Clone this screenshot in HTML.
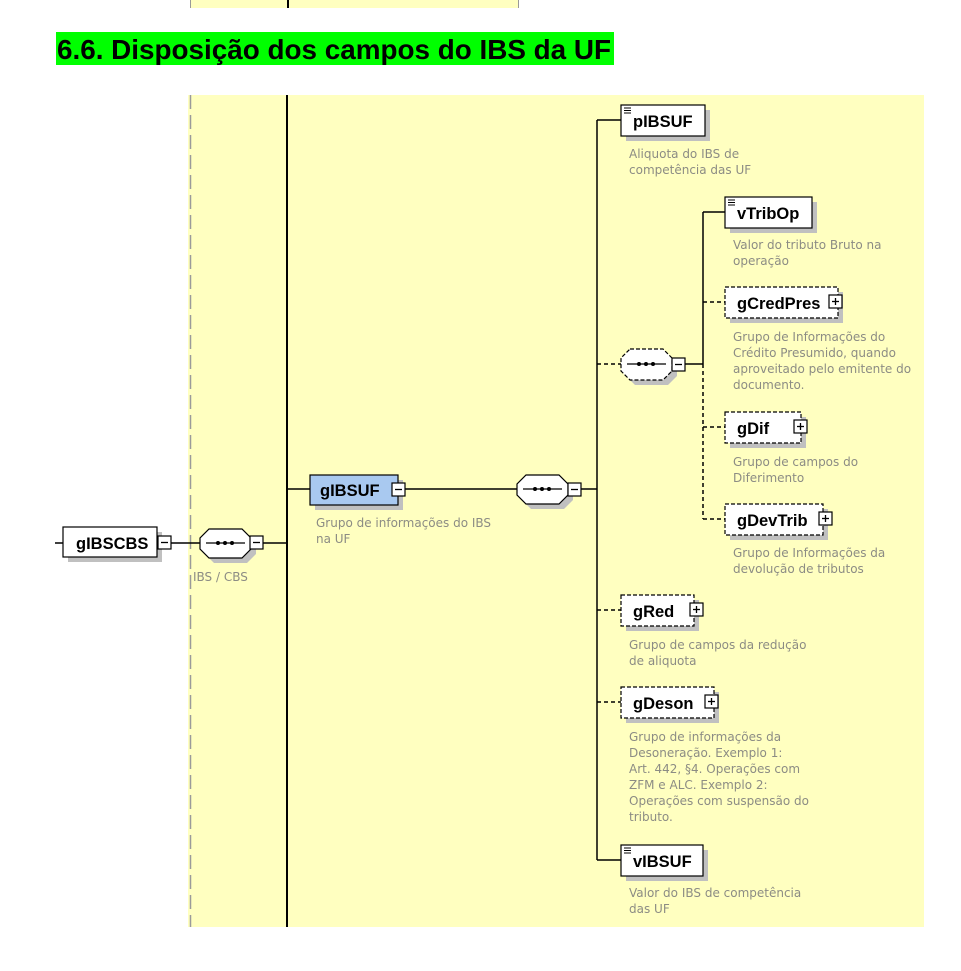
<!DOCTYPE html>
<html><head><meta charset="utf-8"><style>
html,body{margin:0;padding:0;background:#fff;width:961px;height:971px;overflow:hidden}
svg{display:block}
.t{font-family:"Liberation Sans","DejaVu Sans",sans-serif;font-weight:bold;font-size:16.5px;fill:#000}
.d{font-family:"DejaVu Sans","Liberation Sans",sans-serif;font-size:12px;fill:#8c8c84}
</style></head><body>
<svg width="961" height="971" viewBox="0 0 961 971" xmlns="http://www.w3.org/2000/svg">
<defs>
<g id="minus"><rect x="0" y="0" width="13" height="13" fill="#fff" stroke="#000" stroke-width="1.2"/><line x1="3" y1="6.5" x2="10" y2="6.5" stroke="#000" stroke-width="1.3"/></g>
<g id="plus"><rect x="0" y="0" width="13" height="13" fill="#fff" stroke="#000" stroke-width="1.2"/><line x1="3" y1="6.5" x2="10" y2="6.5" stroke="#000" stroke-width="1.3"/><line x1="6.5" y1="3" x2="6.5" y2="10" stroke="#000" stroke-width="1.3"/></g>
<g id="ico"><line x1="0" y1="0" x2="7" y2="0" stroke="#000"/><line x1="0" y1="2.5" x2="7" y2="2.5" stroke="#000"/><line x1="0" y1="5" x2="7" y2="5" stroke="#000"/></g>
</defs>
<rect x="190" y="0" width="329" height="8" fill="#ffffc0"/>
<line x1="190.5" y1="0" x2="190.5" y2="8" stroke="#999"/>
<line x1="518.5" y1="0" x2="518.5" y2="8" stroke="#999"/>
<line x1="288" y1="0" x2="288" y2="8" stroke="#000" stroke-width="2"/>
<rect x="56" y="32" width="558" height="33" fill="#00ff00"/>
<text x="57" y="59" textLength="554" lengthAdjust="spacingAndGlyphs" style="font-family:'Liberation Sans',sans-serif;font-weight:bold;font-size:28px" fill="#000">6.6. Disposição dos campos do IBS da UF</text>
<rect x="188" y="95" width="736" height="832" fill="#ffffc0"/>
<line x1="190.5" y1="95" x2="190.5" y2="927" stroke="#9a9a9a" stroke-width="1.5" stroke-dasharray="14,6"/>
<line x1="287" y1="95" x2="287" y2="927" stroke="#000" stroke-width="2"/>

<line x1="55" y1="543" x2="63" y2="543" stroke="#000" stroke-width="1.5"/>
<rect x="68" y="532" width="94" height="30" fill="#c0c0c0"/>
<rect x="63" y="527" width="94" height="30" fill="#fff" stroke="#000" stroke-width="1.2"/>
<text class="t" x="76" y="549">gIBSCBS</text>
<use href="#minus" x="158" y="536"/>
<line x1="171" y1="543" x2="200" y2="543" stroke="#000" stroke-width="1.5"/>
<polygon points="214,534 247,534 256,543 256,554 247,563 214,563 205,554 205,543" fill="#c0c0c0"/>
<polygon points="209,529 242,529 251,538 251,549 242,558 209,558 200,549 200,538" fill="#fff" stroke="#000" stroke-width="1.2"/>
<line x1="206" y1="543" x2="245" y2="543" stroke="#000" stroke-width="1.3"/>
<circle cx="218" cy="543" r="2" fill="#000"/><circle cx="225" cy="543" r="2" fill="#000"/><circle cx="232" cy="543" r="2" fill="#000"/>
<use href="#minus" x="250" y="536"/>
<line x1="263" y1="543" x2="287" y2="543" stroke="#000" stroke-width="1.5"/>
<text class="d" x="193" y="581">IBS / CBS</text>

<line x1="287" y1="489" x2="310" y2="489" stroke="#000" stroke-width="1.5"/>
<rect x="315" y="480" width="88" height="30" fill="#c0c0c0"/>
<rect x="310" y="475" width="88" height="30" fill="#a9c9f0" stroke="#000" stroke-width="1.2"/>
<text class="t" x="320" y="496">gIBSUF</text>
<use href="#minus" x="392" y="483"/>
<line x1="405" y1="489" x2="517" y2="489" stroke="#000" stroke-width="1.5"/>
<text class="d" x="316" y="527">Grupo de informações do IBS</text>
<text class="d" x="316" y="543">na UF</text>
<polygon points="531,480 564,480 573,489 573,500 564,509 531,509 522,500 522,489" fill="#c0c0c0"/>
<polygon points="526,475 559,475 568,484 568,495 559,504 526,504 517,495 517,484" fill="#fff" stroke="#000" stroke-width="1.2"/>
<line x1="523" y1="489" x2="562" y2="489" stroke="#000" stroke-width="1.3"/>
<circle cx="535" cy="489" r="2" fill="#000"/><circle cx="542" cy="489" r="2" fill="#000"/><circle cx="549" cy="489" r="2" fill="#000"/>
<use href="#minus" x="568" y="483"/>
<line x1="581" y1="489" x2="597" y2="489" stroke="#000" stroke-width="1.5"/>
<line x1="597" y1="120" x2="597" y2="860" stroke="#000" stroke-width="1.5"/>

<line x1="597" y1="120" x2="621" y2="120" stroke="#000" stroke-width="1.5"/>
<rect x="626" y="110" width="84" height="31" fill="#c0c0c0"/>
<rect x="621" y="105" width="84" height="31" fill="#fff" stroke="#000" stroke-width="1.2"/>
<use href="#ico" x="624" y="108"/>
<text class="t" x="633" y="127">pIBSUF</text>
<text class="d" x="629" y="158">Aliquota do IBS de</text>
<text class="d" x="629" y="174">competência das UF</text>

<line x1="597" y1="364" x2="621" y2="364" stroke="#000" stroke-width="1.5" stroke-dasharray="4,3"/>
<polygon points="635,354 668,354 677,363 677,376 668,385 635,385 626,376 626,363" fill="#c0c0c0"/>
<polygon points="630,349 663,349 672,358 672,371 663,380 630,380 621,371 621,358" fill="#fff" stroke="#000" stroke-width="1.2" stroke-dasharray="4,2"/>
<line x1="627" y1="364" x2="666" y2="364" stroke="#000" stroke-width="1.3"/>
<circle cx="639" cy="364" r="2" fill="#000"/><circle cx="646" cy="364" r="2" fill="#000"/><circle cx="653" cy="364" r="2" fill="#000"/>
<use href="#minus" x="672" y="358"/>
<line x1="685" y1="364" x2="703" y2="364" stroke="#000" stroke-width="1.5"/>
<line x1="703" y1="212" x2="703" y2="364" stroke="#000" stroke-width="1.5"/>
<line x1="703" y1="364" x2="703" y2="519" stroke="#000" stroke-width="1.5" stroke-dasharray="4,3"/>

<line x1="703" y1="212" x2="725" y2="212" stroke="#000" stroke-width="1.5"/>
<rect x="730" y="202" width="87" height="31" fill="#c0c0c0"/>
<rect x="725" y="197" width="87" height="31" fill="#fff" stroke="#000" stroke-width="1.2"/>
<use href="#ico" x="728" y="200"/>
<text class="t" x="737" y="219">vTribOp</text>
<text class="d" x="733" y="249">Valor do tributo Bruto na</text>
<text class="d" x="733" y="265">operação</text>

<line x1="703" y1="302" x2="725" y2="302" stroke="#000" stroke-width="1.5" stroke-dasharray="4,3"/>
<rect x="730" y="292" width="113" height="31" fill="#c0c0c0"/>
<rect x="725" y="287" width="113" height="31" fill="#fff" stroke="#000" stroke-width="1.2" stroke-dasharray="4,2"/>
<text class="t" x="737" y="309">gCredPres</text>
<use href="#plus" x="829" y="295"/>
<text class="d" x="733" y="341">Grupo de Informações do</text>
<text class="d" x="733" y="357">Crédito Presumido, quando</text>
<text class="d" x="733" y="373">aproveitado pelo emitente do</text>
<text class="d" x="733" y="389">documento.</text>

<line x1="703" y1="427" x2="725" y2="427" stroke="#000" stroke-width="1.5" stroke-dasharray="4,3"/>
<rect x="730" y="417" width="76" height="31" fill="#c0c0c0"/>
<rect x="725" y="412" width="76" height="31" fill="#fff" stroke="#000" stroke-width="1.2" stroke-dasharray="4,2"/>
<text class="t" x="737" y="434">gDif</text>
<use href="#plus" x="794" y="420"/>
<text class="d" x="733" y="466">Grupo de campos do</text>
<text class="d" x="733" y="482">Diferimento</text>

<line x1="703" y1="519" x2="725" y2="519" stroke="#000" stroke-width="1.5" stroke-dasharray="4,3"/>
<rect x="730" y="509" width="98" height="31" fill="#c0c0c0"/>
<rect x="725" y="504" width="98" height="31" fill="#fff" stroke="#000" stroke-width="1.2" stroke-dasharray="4,2"/>
<text class="t" x="737" y="526">gDevTrib</text>
<use href="#plus" x="819" y="512"/>
<text class="d" x="733" y="557">Grupo de Informações da</text>
<text class="d" x="733" y="573">devolução de tributos</text>

<line x1="597" y1="610" x2="621" y2="610" stroke="#000" stroke-width="1.5" stroke-dasharray="4,3"/>
<rect x="626" y="600" width="73" height="31" fill="#c0c0c0"/>
<rect x="621" y="595" width="73" height="31" fill="#fff" stroke="#000" stroke-width="1.2" stroke-dasharray="4,2"/>
<text class="t" x="633" y="617">gRed</text>
<use href="#plus" x="690" y="603"/>
<text class="d" x="629" y="649">Grupo de campos da redução</text>
<text class="d" x="629" y="665">de aliquota</text>

<line x1="597" y1="702" x2="621" y2="702" stroke="#000" stroke-width="1.5" stroke-dasharray="4,3"/>
<rect x="626" y="692" width="93" height="31" fill="#c0c0c0"/>
<rect x="621" y="687" width="93" height="31" fill="#fff" stroke="#000" stroke-width="1.2" stroke-dasharray="4,2"/>
<text class="t" x="633" y="709">gDeson</text>
<use href="#plus" x="705" y="695"/>
<text class="d" x="629" y="741">Grupo de informações da</text>
<text class="d" x="629" y="757">Desoneração. Exemplo 1:</text>
<text class="d" x="629" y="773">Art. 442, §4. Operações com</text>
<text class="d" x="629" y="789">ZFM e ALC. Exemplo 2:</text>
<text class="d" x="629" y="805">Operações com suspensão do</text>
<text class="d" x="629" y="821">tributo.</text>

<line x1="597" y1="860" x2="621" y2="860" stroke="#000" stroke-width="1.5"/>
<rect x="626" y="850" width="82" height="31" fill="#c0c0c0"/>
<rect x="621" y="845" width="82" height="31" fill="#fff" stroke="#000" stroke-width="1.2"/>
<use href="#ico" x="624" y="848"/>
<text class="t" x="633" y="867">vIBSUF</text>
<text class="d" x="629" y="897">Valor do IBS de competência</text>
<text class="d" x="629" y="913">das UF</text>
</svg>
</body></html>
